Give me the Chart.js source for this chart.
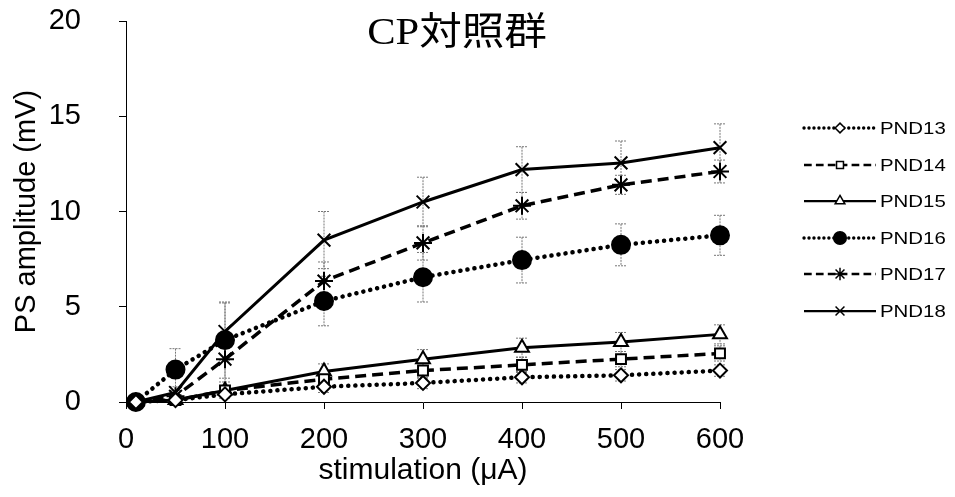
<!DOCTYPE html>
<html>
<head>
<meta charset="utf-8">
<script src="https://cdn.jsdelivr.net/npm/chart.js@4"></script>
<style>
  html, body { margin: 0; padding: 0; background: #fff; }
  #wrap { width: 955px; height: 497px; }
</style>
</head>
<body>
<div id="wrap"><canvas id="chart" width="955" height="497"></canvas></div>
<script>
// stimulation (μA)
const stimulation = [10, 50, 100, 200, 300, 400, 500, 600];
const xTicks = [0, 100, 200, 300, 400, 500, 600];
const yTicks = [0, 5, 10, 15, 20];

// PS amplitude (mV)
const pnd13 = [0, 0.1, 0.4, 0.8, 1.0, 1.3, 1.4, 1.65];
const pnd14 = [0, 0.1, 0.6, 1.2, 1.65, 1.95, 2.25, 2.55];
const pnd15 = [0, 0.1, 0.6, 1.6, 2.25, 2.85, 3.15, 3.55];
const pnd16 = [0, 1.7, 3.25, 5.3, 6.55, 7.45, 8.25, 8.75];
const pnd17 = [0, 0.3, 2.25, 6.35, 8.35, 10.3, 11.4, 12.1];
const pnd18 = [0, 0.5, 3.7, 8.5, 10.5, 12.2, 12.55, 13.35];

// error bars (SEM)
const pnd13Err = [0, 0.1, 0.2, 0.3, 0.3, 0.3, 0.3, 0.3];
const pnd14Err = [0, 0.1, 0.2, 0.3, 0.4, 0.4, 0.4, 0.4];
const pnd15Err = [0, 0.1, 0.2, 0.4, 0.5, 0.5, 0.5, 0.5];
const pnd16Err = [0, 1.1, 2.0, 1.3, 1.3, 1.2, 1.1, 1.05];
const pnd17Err = [0, 0.3, 1.2, 1.0, 0.9, 0.7, 0.5, 0.6];
const pnd18Err = [0, 0.3, 1.5, 1.5, 1.3, 1.2, 1.15, 1.25];

const seriesNames = ['PND13', 'PND14', 'PND15', 'PND16', 'PND17', 'PND18'];

const DOT = [0.1, 7];
const DASH = [11, 6];

function makeSet(label, values, errs, style) {
  return Object.assign({
    label: label,
    data: values.map((v, i) => ({ x: stimulation[i], y: v })),
    errors: errs,
    borderColor: '#000',
    pointBorderColor: '#000',
    pointBorderWidth: 2,
    fill: false,
    clip: false,
    tension: 0
  }, style);
}

const datasets = [
  makeSet(seriesNames[0], pnd13, pnd13Err, { borderDash: DOT, borderWidth: 4.5, borderCapStyle: 'round', pointStyle: 'rectRot', pointRadius: 7, pointBackgroundColor: '#fff' }),
  makeSet(seriesNames[1], pnd14, pnd14Err, { borderDash: DASH, borderWidth: 3.5, pointStyle: 'rect', pointRadius: 7, pointBackgroundColor: '#fff' }),
  makeSet(seriesNames[2], pnd15, pnd15Err, { borderWidth: 3, pointStyle: 'triangle', pointRadius: 8, pointBackgroundColor: '#fff' }),
  makeSet(seriesNames[3], pnd16, pnd16Err, { borderDash: DOT, borderWidth: 4.5, borderCapStyle: 'round', pointStyle: 'circle', pointRadius: 9, pointBackgroundColor: '#000' }),
  makeSet(seriesNames[4], pnd17, pnd17Err, { borderDash: DASH, borderWidth: 3.5, pointStyle: 'star', pointRadius: 9, pointBackgroundColor: '#000' }),
  makeSet(seriesNames[5], pnd18, pnd18Err, { borderWidth: 3, pointStyle: 'crossRot', pointRadius: 9, pointBackgroundColor: '#000' })
];

// 에러바 그리기
const errorBars = {
  id: 'errorBars',
  beforeDatasetsDraw(chart) {
    const ctx = chart.ctx;
    const xs = chart.scales.x, ys = chart.scales.y;
    ctx.save();
    ctx.strokeStyle = '#777';
    ctx.lineWidth = 1;
    ctx.setLineDash([2, 1]);
    chart.data.datasets.forEach(ds => {
      ds.data.forEach((p, i) => {
        const e = ds.errors[i];
        if (!e) return;
        const px = xs.getPixelForValue(p.x);
        const top = ys.getPixelForValue(p.y + e);
        const bot = ys.getPixelForValue(p.y - e);
        ctx.beginPath();
        ctx.moveTo(px, top); ctx.lineTo(px, bot);
        ctx.moveTo(px - 6, top); ctx.lineTo(px + 6, top);
        ctx.moveTo(px - 6, bot); ctx.lineTo(px + 6, bot);
        ctx.stroke();
      });
    });
    ctx.restore();
  }
};

// 제목 + 범례 (가로로 약간 늘림)
function wideText(ctx, text, x, y, sx) {
  ctx.save();
  ctx.translate(x, y);
  ctx.scale(sx, 1);
  ctx.fillText(text, 0, 0);
  ctx.restore();
}

const titleLegend = {
  id: 'titleLegend',
  afterDraw(chart) {
    const ctx = chart.ctx;
    ctx.save();
    ctx.fillStyle = '#000';
    ctx.font = '38px "Liberation Serif", "Noto Sans CJK JP", serif';
    ctx.textAlign = 'center';
    ctx.textBaseline = 'middle';
    wideText(ctx, 'CP対照群', 457, 34, 1.12);

    const rowY = [128, 165, 201, 238, 274, 311];
    chart.data.datasets.forEach((ds, i) => {
      const y = rowY[i];
      ctx.strokeStyle = '#000';
      ctx.lineWidth = ds.borderWidth * 0.75;
      ctx.lineCap = ds.borderCapStyle || 'butt';
      ctx.setLineDash(ds.borderDash ? ds.borderDash.map(d => d * 0.7) : []);
      ctx.beginPath();
      ctx.moveTo(804, y); ctx.lineTo(876, y);
      ctx.stroke();
      ctx.setLineDash([]);
      ctx.lineWidth = 1.5;
      ctx.fillStyle = ds.pointBackgroundColor;
      Chart.helpers.drawPoint(ctx, {
        pointStyle: ds.pointStyle, rotation: 0, radius: ds.pointRadius * 0.7,
        borderWidth: 1.5
      }, 840, y);
      ctx.fillStyle = '#000';
      ctx.font = '17px "Liberation Sans", Arial, sans-serif';
      ctx.textAlign = 'left';
      wideText(ctx, ds.label, 880, y + 1, 1.2);
    });
    ctx.restore();
  }
};

Chart.defaults.font.family = '"Liberation Sans", Arial, sans-serif';
Chart.defaults.color = '#000';

new Chart(document.getElementById('chart').getContext('2d'), {
  type: 'line',
  data: { datasets },
  options: {
    responsive: false,
    animation: false,
    layout: { padding: { left: 10, right: 235, top: 21, bottom: 8 } },
    plugins: { legend: { display: false }, tooltip: { enabled: false } },
    scales: {
      x: {
        type: 'linear', min: 0, max: 600,
        afterBuildTicks: s => { s.ticks = xTicks.map(v => ({ value: v })); },
        afterFit: s => { s.height = 497 - 402 - 8; },
        border: { color: '#000', width: 1 },
        grid: { drawOnChartArea: false, tickLength: 7, color: '#000' },
        ticks: { font: { size: 29 }, padding: 14, maxRotation: 0 },
        title: { display: true, text: 'stimulation (μA)', font: { size: 30 }, padding: { top: 0, bottom: 0 } }
      },
      y: {
        min: 0, max: 20,
        afterBuildTicks: s => { s.ticks = yTicks.map(v => ({ value: v })); },
        // 세로축 폭 고정, 위아래 여백 제거
        afterFit: s => { s.width = 126 - 10; s.paddingTop = 0; s.paddingBottom = 0; },
        border: { color: '#000', width: 1 },
        grid: { drawOnChartArea: false, tickLength: 7, color: '#000' },
        ticks: { font: { size: 29 }, padding: 38 },
        title: { display: true, text: 'PS amplitude (mV)', font: { size: 29 }, padding: 0 }
      }
    }
  },
  plugins: [errorBars, titleLegend]
});
</script>
</body>
</html>
